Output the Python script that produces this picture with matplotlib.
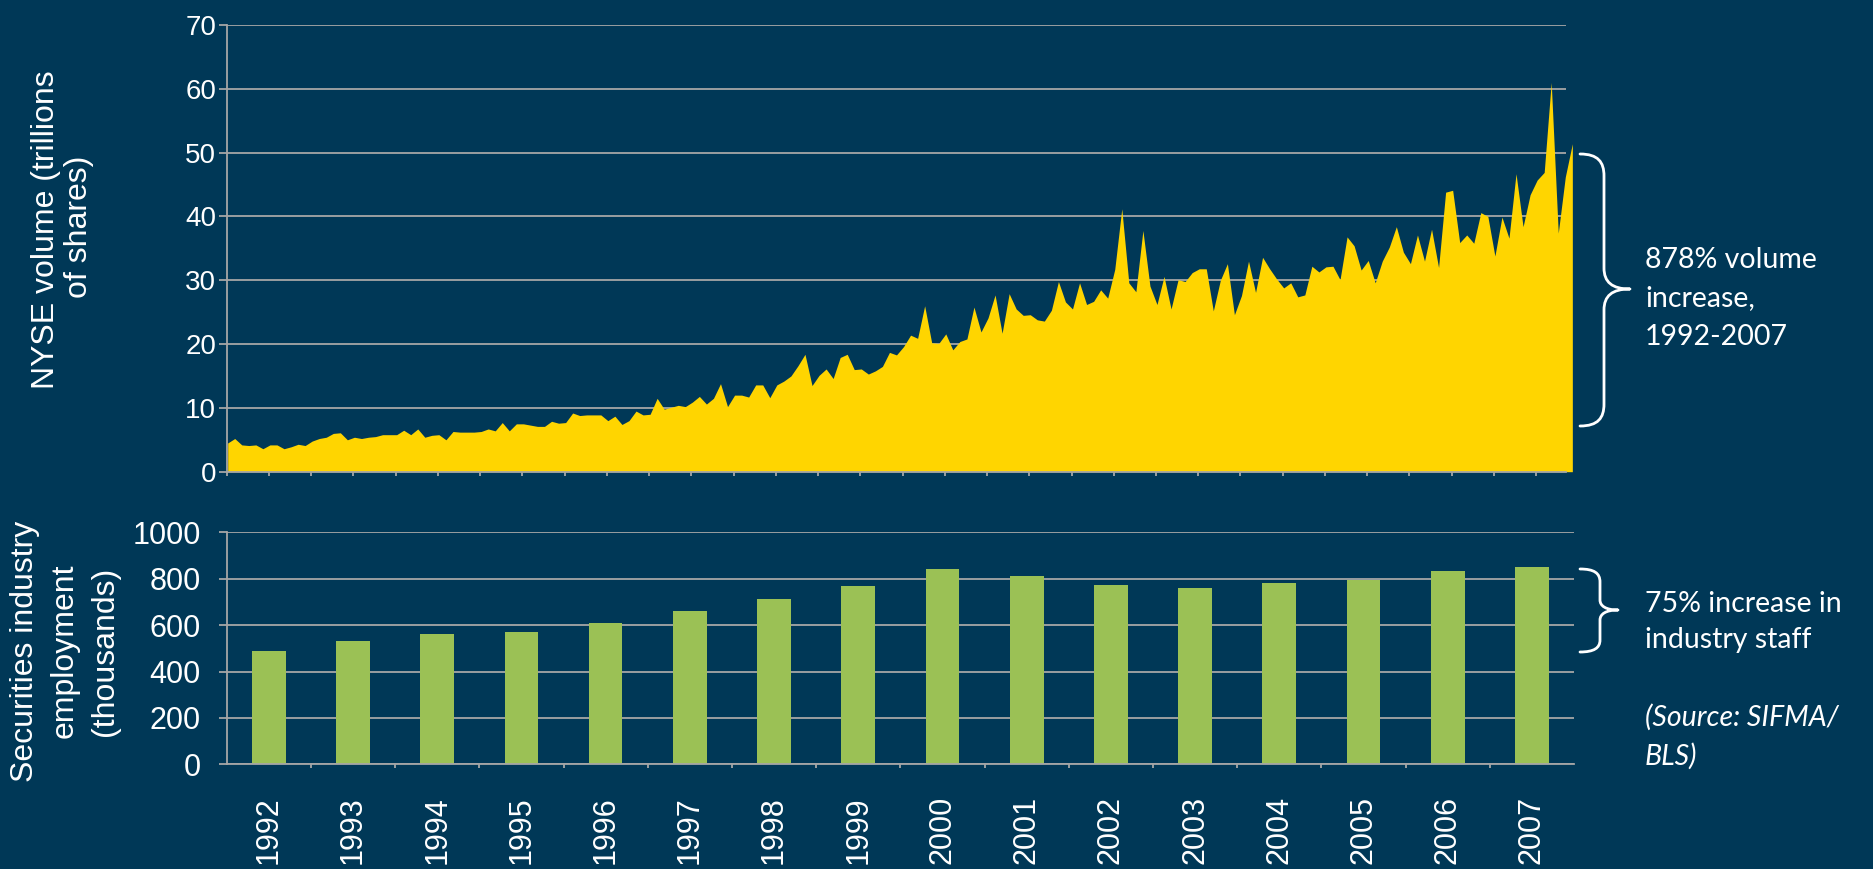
import matplotlib
matplotlib.use("Agg")
import matplotlib.pyplot as plt
import numpy as np
from matplotlib.path import Path
from matplotlib.patches import PathPatch

W, H, DPI = 1874, 869, 100

BG = "#003857"
GRID = "#a6a6a6"
YELLOW = "#ffd500"
GREEN = "#9bc155"
WHITE = "#ffffff"

# ---- NYSE monthly volume (trillions of shares), one list per year ----
vol_1992 = [4.5, 5.2, 4.2, 4.1, 4.2, 3.6, 4.2, 4.2, 3.6, 3.9, 4.3, 4.1]
vol_1993 = [4.8, 5.2, 5.4, 6.0, 6.1, 5.0, 5.4, 5.2, 5.4, 5.5, 5.8, 5.8]
vol_1994 = [5.8, 6.5, 5.8, 6.7, 5.4, 5.7, 5.8, 5.0, 6.3, 6.2, 6.2, 6.2]
vol_1995 = [6.3, 6.7, 6.4, 7.7, 6.4, 7.5, 7.5, 7.3, 7.1, 7.1, 7.9, 7.6]
vol_1996 = [7.7, 9.2, 8.8, 8.9, 8.9, 8.9, 8.0, 8.7, 7.4, 8.0, 9.5, 8.9]
vol_1997 = [9.0, 11.5, 9.8, 10.1, 10.4, 10.2, 10.9, 11.8, 10.6, 11.5, 13.8, 10.2]
vol_1998 = [12.0, 12.0, 11.7, 13.6, 13.6, 11.6, 13.6, 14.2, 15.0, 16.6, 18.4, 13.5]
vol_1999 = [15.1, 16.1, 14.6, 17.9, 18.4, 16.0, 16.1, 15.3, 15.8, 16.5, 18.7, 18.3]
vol_2000 = [19.6, 21.4, 20.9, 26.0, 20.2, 20.1, 21.6, 19.1, 20.4, 20.8, 25.8, 21.9]
vol_2001 = [24.1, 27.7, 21.7, 27.9, 25.5, 24.5, 24.6, 23.8, 23.6, 25.3, 29.8, 26.6]
vol_2002 = [25.5, 29.6, 26.2, 26.7, 28.5, 27.2, 31.7, 41.2, 29.6, 28.2, 37.8, 29.1]
vol_2003 = [26.2, 30.6, 25.5, 30.1, 29.8, 31.2, 31.8, 31.8, 25.2, 30.0, 32.6, 24.6]
vol_2004 = [27.6, 33.0, 28.1, 33.6, 31.8, 30.2, 28.8, 29.6, 27.4, 27.7, 32.2, 31.3]
vol_2005 = [32.1, 32.2, 30.1, 36.8, 35.4, 31.6, 33.1, 29.6, 33.0, 35.2, 38.4, 34.4]
vol_2006 = [32.6, 37.1, 33.0, 38.0, 32.0, 43.8, 44.1, 35.9, 37.1, 35.8, 40.6, 40.0]
vol_2007 = [33.8, 39.9, 36.6, 46.7, 38.4, 43.4, 45.7, 46.9, 61.0, 37.4, 46.2, 51.4]

volume = (vol_1992 + vol_1993 + vol_1994 + vol_1995 + vol_1996 + vol_1997 +
          vol_1998 + vol_1999 + vol_2000 + vol_2001 + vol_2002 + vol_2003 +
          vol_2004 + vol_2005 + vol_2006 + vol_2007)

# ---- Securities industry employment (thousands) ----
years = ["1992", "1993", "1994", "1995", "1996", "1997", "1998", "1999",
         "2000", "2001", "2002", "2003", "2004", "2005", "2006", "2007"]
employment = [488, 531, 562, 570, 609, 661, 713, 768, 842, 812, 773, 760,
              782, 795, 833, 850]

vol_ticks = [0, 10, 20, 30, 40, 50, 60, 70]
emp_ticks = [0, 200, 400, 600, 800, 1000]

plt.rcParams['font.family'] = ['Liberation Sans', 'DejaVu Sans']

fig = plt.figure(figsize=(W / DPI, H / DPI), dpi=DPI, facecolor=BG)


def fx(x):
    return x / W


def fy(y):
    return 1 - y / H


def style_axes(ax):
    ax.set_facecolor(BG)
    ax.set_axisbelow(True)
    for s in ("top", "right"):
        ax.spines[s].set_visible(False)
    for s in ("left", "bottom"):
        ax.spines[s].set_color(GRID)
        ax.spines[s].set_linewidth(1.3)
    ax.grid(axis="y", color=GRID, linewidth=1.3)
    ax.grid(axis="x", visible=False)


# ---------------- top: area chart ----------------
ax1 = fig.add_axes([fx(226.7), fy(471.7), fx(1566) - fx(226.7), fy(25) - fy(471.7)])
style_axes(ax1)
xi = np.arange(len(volume))
ax1.fill_between(xi, 0, volume, color=YELLOW, linewidth=0, clip_on=False, zorder=2)
ax1.set_xlim(-1 / 7.04, (1566 - 227.7) / 7.04)
ax1.set_ylim(0, 70)
ax1.set_yticks(vol_ticks)
ax1.set_yticklabels([str(v) for v in vol_ticks])
ax1.set_xticks(np.arange(0, 32) * 6 - 1 / 7.04)
ax1.set_xticklabels([])
ax1.tick_params(axis="y", direction="out", length=5.7, width=1.3, color=GRID,
                labelcolor=WHITE, labelsize=20, pad=2)
ax1.tick_params(axis="x", direction="out", length=3, width=1.3, color=GRID)

# ---------------- bottom: bar chart ----------------
ax2 = fig.add_axes([fx(226.7), fy(764.3), fx(1574) - fx(226.7), fy(532.3) - fy(764.3)])
style_axes(ax2)
xb = np.arange(len(years))
ax2.bar(xb, employment, width=0.40, color=GREEN, linewidth=0, zorder=2)
ax2.set_xlim(-0.5, len(years) - 0.5)
ax2.set_ylim(0, 1000)
ax2.set_yticks(emp_ticks)
ax2.set_yticklabels([str(v) for v in emp_ticks])
ax2.set_xticks(xb)
ax2.set_xticklabels(years, rotation=90)
ax2.set_xticks(np.arange(1, len(years)) - 0.5, minor=True)
ax2.tick_params(axis="y", direction="out", length=5.7, width=1.3, color=GRID,
                labelcolor=WHITE, labelsize=22, pad=13)
ax2.tick_params(axis="x", which="major", length=0, labelcolor=WHITE,
                labelsize=22, pad=23)
ax2.tick_params(axis="x", which="minor", direction="out", length=3, width=1.3,
                color=GRID)

# ---------------- axis titles ----------------
lab_kw = dict(color=WHITE, fontsize=23, rotation=90, ha="center", va="center")
fig.text(fx(46), fy(230), "NYSE volume (trillions", **lab_kw)
fig.text(fx(79), fy(227), "of shares)", **lab_kw)
fig.text(fx(25), fy(651), "Securities industry", **lab_kw)
fig.text(fx(65), fy(651), "employment", **lab_kw)
fig.text(fx(105), fy(651), "(thousands)", **lab_kw)

# ---------------- braces ----------------
def brace(pts_codes):
    verts = [(fx(x), fy(y)) for x, y in pts_codes[0]]
    path = Path(verts, pts_codes[1])
    fig.patches.append(PathPatch(path, facecolor="none", edgecolor=WHITE,
                                 linewidth=2.0, transform=fig.transFigure,
                                 capstyle="round", joinstyle="round"))


M, C, L = Path.MOVETO, Path.CURVE4, Path.LINETO
top_brace = ([(1580, 154), (1598, 154), (1604, 162), (1604, 176),
              (1604, 268),
              (1604, 282), (1612, 289), (1630, 289),
              (1612, 289), (1604, 296), (1604, 310),
              (1604, 404),
              (1604, 418), (1598, 426), (1580, 426)],
             [M, C, C, C, L, C, C, C, C, C, C, L, C, C, C])
bot_brace = ([(1580, 569), (1594, 569), (1600, 573), (1600, 582),
              (1600, 600),
              (1600, 606), (1606, 610), (1618, 610),
              (1606, 610), (1600, 614), (1600, 620),
              (1600, 640),
              (1600, 648), (1594, 652), (1580, 652)],
             [M, C, C, C, L, C, C, C, C, C, C, L, C, C, C])
brace(top_brace)
brace(bot_brace)

# ---------------- annotations ----------------
ann_kw = dict(color=WHITE, fontsize=20.5, family=["Lato", "DejaVu Sans"],
              ha="left", va="baseline")
fig.text(fx(1645), fy(268), "878% volume", **ann_kw)
fig.text(fx(1645), fy(306), "increase,", **ann_kw)
fig.text(fx(1645), fy(345), "1992-2007", **ann_kw)
fig.text(fx(1645), fy(612), "75% increase in", **ann_kw)
fig.text(fx(1645), fy(648), "industry staff", **ann_kw)
fig.text(fx(1645), fy(726), "(Source: SIFMA/", style="italic", **ann_kw)
fig.text(fx(1645), fy(765), "BLS)", style="italic", **ann_kw)

fig.savefig("out.png", dpi=DPI, facecolor=BG)
